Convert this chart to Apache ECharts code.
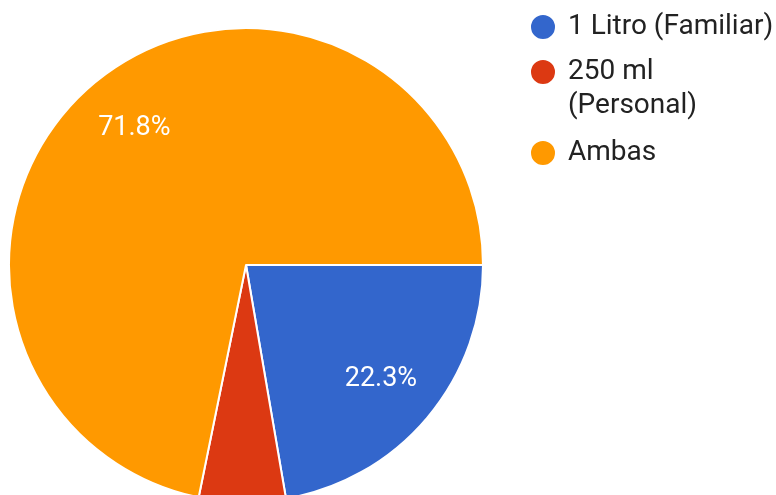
<!DOCTYPE html>
<html>
<head>
<meta charset="utf-8">
<script src="https://cdn.jsdelivr.net/npm/echarts@6/dist/echarts.min.js"></script>
<style>
  html, body { margin: 0; padding: 0; background: #fff; }
  #chart { width: 776px; height: 495px; }
</style>
</head>
<body>
<div id="chart"></div>
<script>
// Preferred bottle size survey
const categories = ['1 Litro (Familiar)', '250 ml (Personal)', 'Ambas'];
const legendLabels = ['1 Litro (Familiar)', '250 ml\n(Personal)', 'Ambas'];
const shares = [22.3, 5.9, 71.8];
const colors = ['#3366cc', '#dc3912', '#ff9900'];

const FONT = 'Roboto, "Noto Sans", sans-serif';
const CENTER = [246, 265];
const RADIUS = 237;

const slices = categories.map((name, i) => ({
  name: name,
  value: shares[i],
  itemStyle: { color: colors[i] }
}));

// Percent labels, hidden on thin slices
const labelSlices = categories.map((name, i) => ({
  name: name,
  value: shares[i],
  label: { show: shares[i] >= 10 }
}));

// One legend block per entry; wrapped names get blank lines above so the
// icon stays level with their first line
const legendTops = [10, 21, 136];
const legends = categories.map((name, i) => {
  const lines = legendLabels[i].split('\n');
  const pad = new Array(lines.length - 1).fill(' ');
  const text = pad.concat(lines).join('\n');
  return {
    data: [name],
    orient: 'vertical',
    left: 529,
    top: legendTops[i],
    padding: 0,
    icon: 'circle',
    itemWidth: 26,
    itemHeight: 26,
    selectedMode: false,
    formatter: () => text,
    textStyle: {
      fontFamily: FONT,
      fontSize: 28,
      color: '#222222',
      lineHeight: 34,
      padding: [0, 0, 0, 7]
    }
  };
});

const chart = echarts.init(document.getElementById('chart'), null, { renderer: 'canvas' });
chart.setOption({
  animation: false,
  backgroundColor: '#ffffff',
  legend: legends,
  series: [
    {
      type: 'pie',
      center: CENTER,
      radius: RADIUS,
      startAngle: 0,
      clockwise: true,
      label: { show: false },
      labelLine: { show: false },
      emphasis: { disabled: true },
      itemStyle: { borderColor: '#ffffff', borderWidth: 2 },
      data: slices
    },
    {
      type: 'pie',
      center: CENTER,
      radius: [110, RADIUS],
      startAngle: 0,
      clockwise: true,
      silent: true,
      emphasis: { disabled: true },
      itemStyle: { color: 'rgba(0,0,0,0)', borderWidth: 0 },
      labelLine: { show: false },
      label: {
        position: 'inside',
        fontFamily: FONT,
        fontSize: 27,
        color: '#ffffff',
        formatter: p => p.value.toFixed(1) + '%'
      },
      data: labelSlices
    }
  ]
});
</script>
</body>
</html>
